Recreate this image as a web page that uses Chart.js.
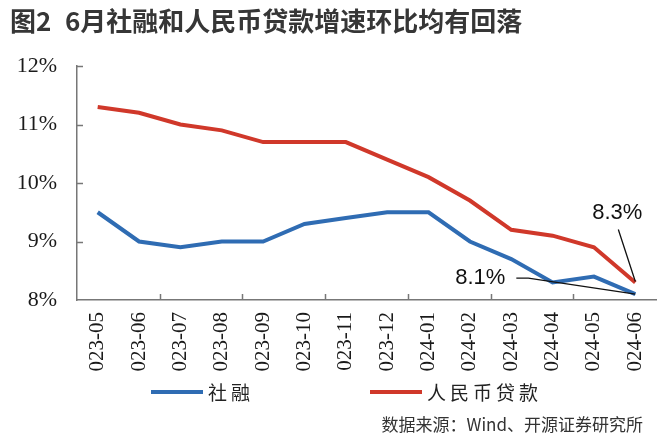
<!DOCTYPE html>
<html>
<head>
<meta charset="utf-8">
<script src="https://cdn.jsdelivr.net/npm/chart.js"></script>
<style>
  body { margin: 0; background: #fff; }
</style>
</head>
<body>
<canvas id="growthChart" width="660" height="441"></canvas>
<script>
  // month labels as they show in the chart (leading "2" is cut off in the original)
  const months = ['023-05', '023-06', '023-07', '023-08', '023-09', '023-10', '023-11',
                  '023-12', '024-01', '024-02', '024-03', '024-04', '024-05', '024-06'];
  const sheRong = [9.5, 9.0, 8.9, 9.0, 9.0, 9.3, 9.4, 9.5, 9.5, 9.0, 8.7, 8.3, 8.4, 8.1];
  const rmbLoans = [11.3, 11.2, 11.0, 10.9, 10.7, 10.7, 10.7, 10.4, 10.1, 9.7, 9.2, 9.1, 8.9, 8.3];
  const seriesNames = ['社融', '人民币贷款'];
  const seriesColors = ['#2f6cb3', '#d0382a'];

  const titleLead = '图2';
  const titleText = '6月社融和人民币贷款增速环比均有回落';
  const sourceText = '数据来源：Wind、开源证券研究所';

  const cjk = '"Noto Sans CJK SC", sans-serif';
  const serif = '"Liberation Serif", "Times New Roman", serif';

  const extras = {
    id: 'extras',
    afterDraw(chart) {
      const ctx = chart.ctx;
      const x = chart.scales.x, y = chart.scales.y;
      const area = chart.chartArea;
      ctx.save();

      // tick marks pointing inward
      ctx.strokeStyle = '#777';
      ctx.lineWidth = 1.5;
      ctx.beginPath();
      for (let v = 9; v <= 12; v++) {
        const py = Math.round(y.getPixelForValue(v)) + 0.5;
        ctx.moveTo(area.left, py);
        ctx.lineTo(area.left + 6, py);
      }
      const step = x.getPixelForValue(1) - x.getPixelForValue(0);
      for (let i = 2; i < months.length; i += 2) {
        const px = Math.round(x.getPixelForValue(i) - step / 2) + 0.5;
        ctx.moveTo(px, area.bottom);
        ctx.lineTo(px, area.bottom - 6);
      }
      ctx.stroke();

      // callouts on the last month
      const last = months.length - 1;
      const lx = x.getPixelForValue(last);
      const ry = y.getPixelForValue(rmbLoans[last]);
      const by = y.getPixelForValue(sheRong[last]);
      ctx.strokeStyle = '#111';
      ctx.lineWidth = 1.3;
      ctx.beginPath();
      ctx.moveTo(lx - 17, ry - 53);
      ctx.lineTo(lx, ry - 1);
      ctx.moveTo(lx - 119, by - 16);
      ctx.lineTo(lx - 107, by - 16);
      ctx.lineTo(lx, by);
      ctx.stroke();
      ctx.fillStyle = '#111';
      ctx.font = '22px "Liberation Sans", Arial, sans-serif';
      ctx.textBaseline = 'middle';
      ctx.textAlign = 'center';
      ctx.fillText(rmbLoans[last].toFixed(1) + '%', lx - 18, ry - 70);
      ctx.textAlign = 'right';
      ctx.fillText(sheRong[last].toFixed(1) + '%', lx - 130, by - 16);

      // title
      ctx.fillStyle = '#363636';
      ctx.textAlign = 'left';
      ctx.font = 'bold 26px ' + cjk;
      ctx.fillText(titleLead, 10, 21);
      ctx.fillText(titleText, 65, 21);

      // legend
      const legendX = [151, 370];
      ctx.font = '19px ' + cjk;
      ctx.letterSpacing = '4px';
      seriesNames.forEach((name, i) => {
        ctx.strokeStyle = seriesColors[i];
        ctx.lineWidth = 4;
        ctx.beginPath();
        ctx.moveTo(legendX[i], 392);
        ctx.lineTo(legendX[i] + 52, 392);
        ctx.stroke();
        ctx.fillStyle = '#222';
        ctx.fillText(name, legendX[i] + 57, 393);
      });
      ctx.letterSpacing = '0px';

      // source note
      ctx.fillStyle = '#333';
      ctx.font = '17px ' + cjk;
      ctx.textAlign = 'right';
      ctx.fillText(sourceText, 643, 425);
      ctx.restore();
    }
  };

  new Chart(document.getElementById('growthChart'), {
    type: 'line',
    data: {
      labels: months,
      datasets: [{
        label: seriesNames[0],
        data: sheRong,
        borderColor: seriesColors[0],
        borderWidth: 4,
        pointRadius: 0,
        tension: 0
      }, {
        label: seriesNames[1],
        data: rmbLoans,
        borderColor: seriesColors[1],
        borderWidth: 4,
        pointRadius: 0,
        tension: 0
      }]
    },
    options: {
      responsive: false,
      animation: false,
      layout: { padding: { top: 66, right: 4, left: 0, bottom: 0 } },
      plugins: {
        legend: { display: false },
        tooltip: { enabled: false }
      },
      scales: {
        x: {
          offset: true,
          grid: { display: false, drawTicks: false },
          border: { display: true, color: '#777', width: 1.5 },
          ticks: {
            autoSkip: false,
            maxRotation: 90,
            minRotation: 90,
            padding: 12,
            color: '#1a1a1a',
            font: { family: serif, size: 21 }
          },
          afterFit(scale) {
            scale.height = 141;
            scale.paddingLeft = 0;
            scale.paddingRight = 0;
          }
        },
        y: {
          min: 8,
          max: 12,
          grid: { display: false, drawTicks: false },
          border: { display: true, color: '#777', width: 1.5 },
          ticks: {
            stepSize: 1,
            padding: 20,
            color: '#1a1a1a',
            font: { family: serif, size: 22 },
            callback: v => v + '%'
          },
          afterFit(scale) { scale.width = 77; }
        }
      }
    },
    plugins: [extras]
  });
</script>
</body>
</html>
